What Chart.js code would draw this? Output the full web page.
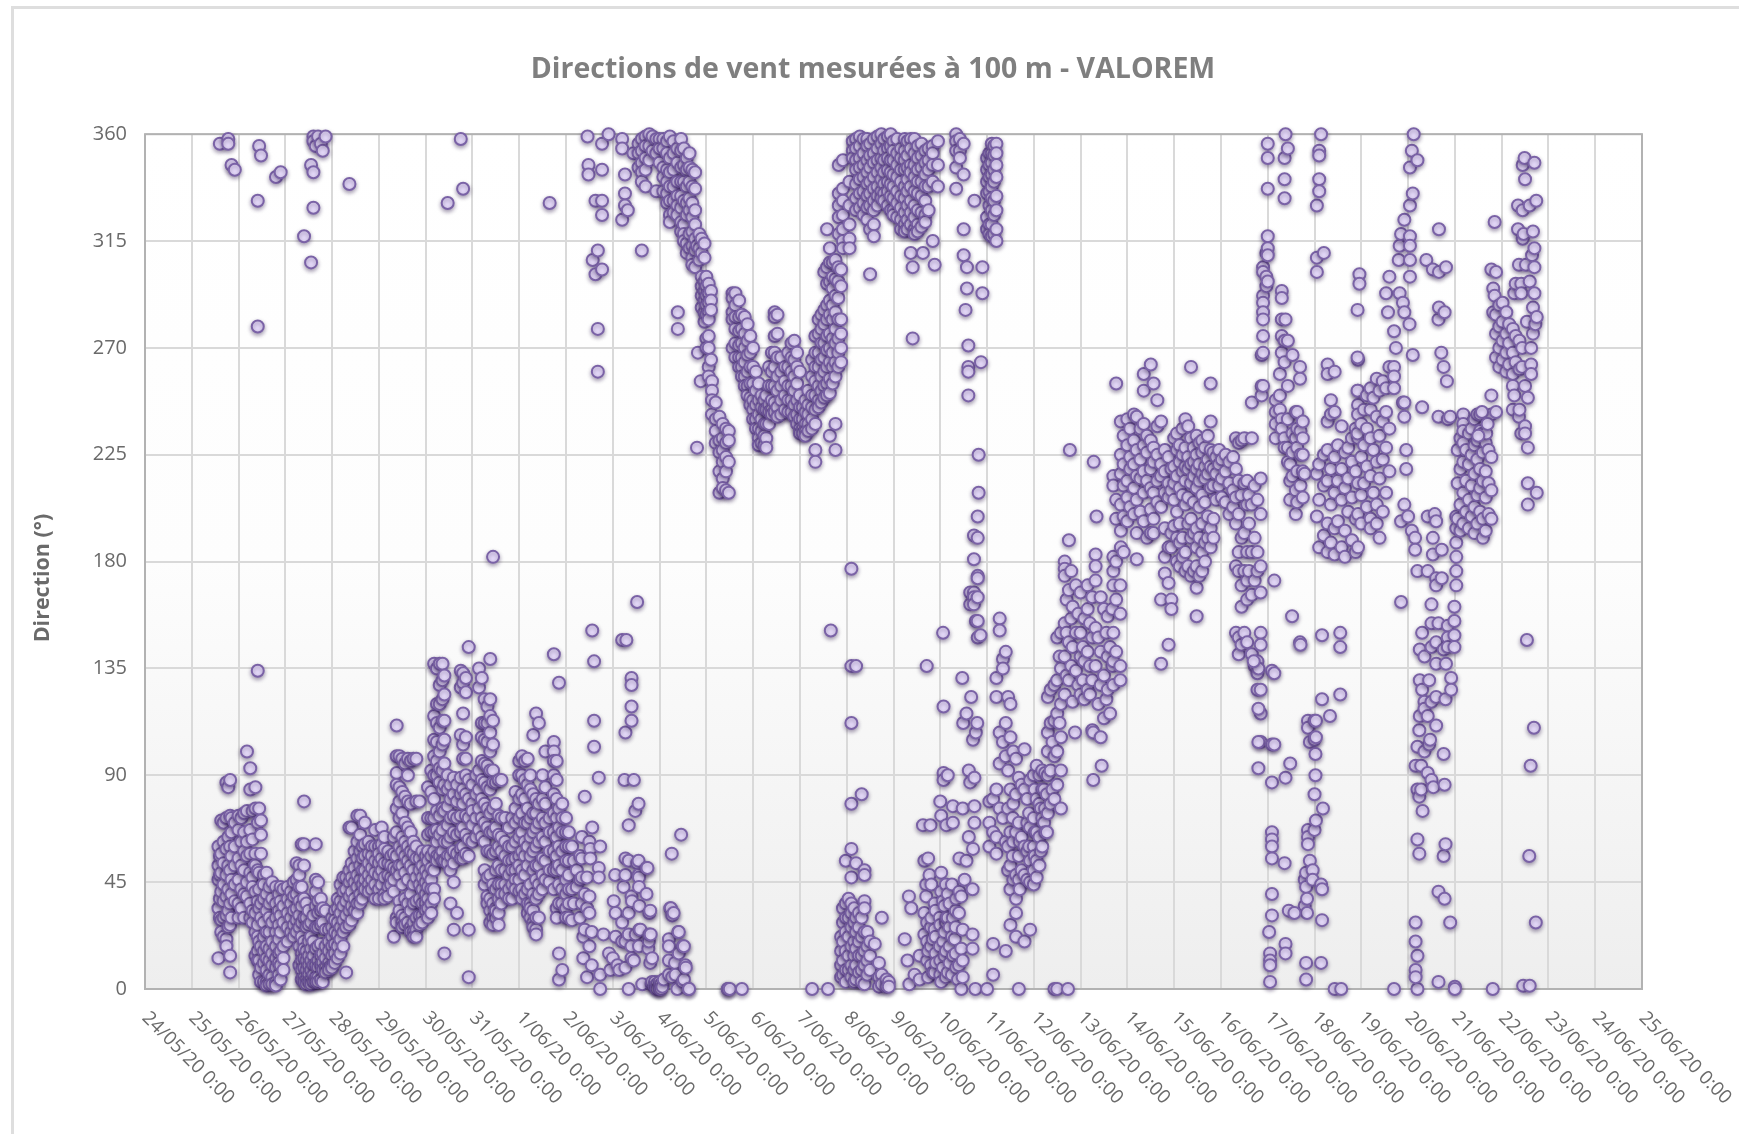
<!DOCTYPE html>
<html>
<head>
<meta charset="utf-8">
<title>Directions de vent</title>
<script src="https://cdn.jsdelivr.net/npm/chart.js@4/dist/chart.umd.min.js"></script>
<style>
body { margin: 0; background: #fff; }
#frame { position: absolute; left: 11px; top: 6px; right: 0; bottom: 0; border-left: 3px solid #dedede; border-top: 3px solid #dedede; }
#wind { position: absolute; left: 0; top: 0; }
</style>
</head>
<body>
<div id="frame"></div>
<canvas id="wind" width="1739" height="1134"></canvas>
<script>
const chartTitle = 'Directions de vent mesurées à 100 m - VALOREM';
const yTitle = 'Direction (°)';
const dateLabels = ['24/05/20 0:00','25/05/20 0:00','26/05/20 0:00','27/05/20 0:00','28/05/20 0:00','29/05/20 0:00','30/05/20 0:00','31/05/20 0:00','1/06/20 0:00','2/06/20 0:00','3/06/20 0:00','4/06/20 0:00','5/06/20 0:00','6/06/20 0:00','7/06/20 0:00','8/06/20 0:00','9/06/20 0:00','10/06/20 0:00','11/06/20 0:00','12/06/20 0:00','13/06/20 0:00','14/06/20 0:00','15/06/20 0:00','16/06/20 0:00','17/06/20 0:00','18/06/20 0:00','19/06/20 0:00','20/06/20 0:00','21/06/20 0:00','22/06/20 0:00','23/06/20 0:00','24/06/20 0:00','25/06/20 0:00'];

// each row: days since 24/05, then the directions read at about that time
const lateMay = [
[1.57,60,52,46,34,13],[1.6,356,56,48,38,30],[1.63,71,57,49,41,29,24],[1.68,70,62,53,44,37,30,22],
[1.74,87,72,59,48,39,31,21,18],[1.78,358,356,85,64,52,42,33,26],[1.82,88,73,60,50,36,27,14,7],[1.85,347,72,66,56,46,40,30],
[1.92,345,70,60,52,44,37],[2,73,67,55,46,36,30],[2.06,72,62,52,42,34],[2.12,74,66,58,50,40,30],
[2.18,100,75,62,56,45,39],[2.25,93,84,67,57,49,36,30],[2.3,75,63,47,43,33,28],[2.36,85,76,57,52,41,32,24,14],
[2.41,332,279,134,70,50,37,27,22,16,12],[2.44,355,76,49,42,34,20,12,6],[2.48,351,71,65,57,36,30,18,9,3],[2.54,48,44,38,28,22,16,11,3],
[2.6,49,40,33,24,18,13,8,3,1.5],[2.66,43,36,30,24,17,12,6,2],[2.72,45,38,28,20,15,10,5,2],[2.8,342,43,36,30,24,18,13,9,3,1.5],
[2.86,40,33,27,21,15,11,6],[2.9,344,43,37,31,24,16,10,4],[2.96,42,35,28,18,13,8],[3.05,43,38,32,26,20],
[3.12,41,36,30,24],[3.18,45,39,33,27,22],[3.24,53,46,40,34,29,24],[3.3,52,48,43,37,31,26,18,10],
[3.35,61,43,35,28,22,15,12,8,4],[3.4,317,79,61,52,38,30,20,17,13,9,5,3],[3.45,36,30,26,16,12,8,4,2],[3.5,33,27,20,14,10,6,3],
[3.55,347,306,28,22,17,12,8,4,2],[3.6,359,357,344,329,31,20,14,10,6,3],[3.65,355,61,46,41,35,26,17,10,5,3],[3.7,359,45,37,32,26,18,12,9,5,3],
[3.76,356,38,33,27,19,14,10,4],[3.8,353,34,28,15,11,8,3],[3.86,359,33,25,18,13,9,7],[3.93,25,20,16,11,9,8],
[4,30,26,22,18,14,10,9],[4.06,33,29,24,19,15,11],[4.12,38,34,28,23,18,13],[4.18,44,37,32,26,21,15],
[4.24,47,41,35,29,24,18],[4.3,47,42,37,31,26,7],[4.37,339,68,50,45,39,33,27],[4.42,68,53,47,41,35,29],
[4.48,58,51,45,38,33],[4.54,73,62,55,48,43,36,32],[4.6,73,65,58,52,46,40,36],[4.65,60,55,50,44,38],
[4.7,70,61,56,50,46,42],[4.78,62,57,53,48,44,41],[4.85,60,56,51,46,42],[4.92,67,60,54,49,44,38],
[5,60,57,53,48,42,38],[5.06,68,61,55,50,44],[5.12,64,59,53,47,40,38],[5.2,58,53,48,43,39],
[5.26,56,52,47,44],[5.32,64,57,51,46,41,22],[5.38,111,98,91,86,76,66,56,50,30,28],[5.44,98,85,79,72,60,52,48,37,33],
[5.5,97,83,74,64,58,52,44,31,28,26],[5.56,95,81,70,62,56,49,38,30,27],[5.62,97,90,79,68,60,54,46,36,28],[5.68,96,78,66,58,52,40,33,26,24],
[5.74,97,62,57,50,44,36,28,24,22],[5.8,97,79,60,55,47,37,30,25,22],[5.87,79,55,50,44,38,31,27],[5.93,58,52,47,42,36,31,28]
];

const earlyJune = [
[6,56,50,45,40,36,33],[6.05,85,72,65,58,54,48,43,38,34,30],[6.12,92,83,72,66,56,51,46,42,36,32],[6.18,137,115,105,98,90,80,72,66,58,50,42,38],
[6.24,135,120,112,104,96,90,75,67,62,56,54],[6.3,137,128,120,110,100,93,87,73,65,56],[6.36,137,130,122,113,103,92,84,76,67,58,54],[6.4,132,124,113,105,95,86,75,62,54,15],
[6.47,331,90,84,77,69,62,56,53],[6.53,86,80,72,64,56,50,36],[6.6,89,82,73,66,58,53,45,25],[6.67,86,79,72,65,57,32],
[6.75,358,134,127,107,89,82,73,66,59,55],[6.8,337,133,129,116,103,97,84,78,68,60,55],[6.86,131,125,106,97,90,82,73,65,57],[6.92,144,88,80,72,63,56,25,5],
[7,86,78,75,69,62],[7.08,90,82,72,64],[7.14,135,127,92,84,76,67],[7.2,131,112,106,96,88,80,72,64],
[7.26,122,112,105,95,87,78,70,62,50,44],[7.32,119,112,104,94,85,76,68,58,47,39,36],[7.38,139,122,115,108,100,92,84,74,66,58,48,38,33,28],[7.44,182,113,103,92,87,76,66,57,44,36,30,27],
[7.5,87,78,68,58,50,42,34,30,33],[7.56,88,73,65,60,52,44,38,32,27],[7.62,88,72,64,58,50,44,40,36],[7.7,72,62,56,50,44,40],
[7.78,68,60,54,48,42,38],[7.85,72,60,54,50,44,38],[7.92,83,76,70,62,55,50,46,42],[8,96,90,80,72,64,56,52,46,41],
[8.06,98,90,82,74,66,58,50,42,38],[8.12,96,88,80,70,62,56,48,40],[8.18,97,86,76,70,60,52,42,36,32],[8.24,90,84,72,64,56,44,36,34,30],
[8.3,107,82,74,66,58,50,40,33,28,26],[8.36,116,80,74,68,60,52,46,38,30,25,23],[8.42,112,78,70,62,52,44,40,30],[8.5,90,80,72,64,55,48,42],
[8.56,100,85,78,70,62,54,46],[8.65,331,72,66,58,50,45],[8.74,141,104,100,96,90,82,74,66,58,50,42],[8.8,96,88,80,72,64,56,50,34,30],
[8.85,129,76,68,60,52,44,36,15,4],[8.92,78,72,66,58,50,42,36,8],[9,72,66,60,54,46,40,34,30],[9.06,66,60,54,48,42,36,30],
[9.13,60,42,29],[9.17,54,36],[9.23,50,43],[9.3,56,46,30],[9.34,64,55,47,36],[9.37,22,13],[9.4,81,40,25],[9.45,47,34,5],[9.46,359],[9.48,347,343],
[9.5,62,39,32,18],[9.52,59,55],[9.55,24,10],[9.56,151,68],[9.57,307],[9.6,138,113,102],[9.63,332,301],[9.68,311,278,260],[9.7,89,51,47],[9.73,60,6,0],
[9.77,356,345,332,326,303],[9.8,23],[9.91,360],[9.92,15],[9.95,8],[10,13],[10.02,37],[10.05,48],[10.06,32,22],[10.1,10],
[10.14,8],[10.2,358,354,324,147,28,20],[10.23,43],[10.25,88],[10.26,343,335,330],[10.27,108,55,48,20,9],[10.29,147],[10.32,328],[10.34,69,54,32,23,0],[10.4,131,128,119,113,39,18,13],
[10.41,37],[10.44,352],[10.45,88,12],[10.48,75],[10.49,23],[10.52,163,53],[10.55,54,48,78],[10.56,47,43,18],[10.57,35,25],[10.59,25],
[10.63,2],[10.72,51,40],[10.74,51],[10.76,17],[10.77,20],[10.78,32,23],[10.8,33,11],[10.81,23],[10.83,2],[10.84,13,3],
[10.9,3,1],[10.94,2,0],[11,3,1,0],[11.03,2,0],[11.06,1],[11.09,4],[11.2,21,18,12,6],[11.23,34],[11.24,34],[11.27,31,5],
[11.3,32],[11.33,11],[11.34,6],[11.38,0],[11.4,24],[11.41,24,15],[11.46,65],[11.49,3],[11.5,18],[11.52,18,4],
[11.55,10],[11.56,9],[11.62,0],[11.63,0],[11.26,57],
[10.55,356,352,346],[10.62,358,353,348,344,340,311],[10.7,359,355,350,345,338],[10.78,360,355,349],[10.85,359,353],[10.93,358,352,336],
[11,358,354,348],[11.08,358,354,346,342,336],[11.16,357,352,345,340,335,331],[11.22,359,350,344,338,332,326,323],[11.3,357,352,345,338,332,327],[11.38,354,348,340,334,330,326],
[11.39,285,278],[11.46,358,353,346,340,334,329,323,319],[11.52,354,347,340,332,322,318,315],[11.58,350,345,338,331,326,314,310],[11.64,352,346,340,333,328,318,312],[11.7,345,338,331,325,319,313,308,305],
[11.76,344,337,328,322,316,311,304],[11.8,313,228],[11.85,318,312,307],[11.82,268],[11.88,256],[11.9,316,310,300,296,292,287],
[11.96,314,308,298,294,290,285,281],[12,300,296,292,288,284,274,270],[12.05,297,293,289,285,282,275,270,262,258],[12.1,294,290,286,265],[12.12,256,252,248,242],[12.2,247,240,235,230],
[12.28,241,231,226,218,209],[12.35,238,232,227,222,215,211],[12.42,236,230,224,218,210],[12.48,235,231,222,209],[12.46,0,0],[12.5,0],[12.76,0],
[12.56,293,291,285,282,270],[12.62,293,288,283,278,272,266],[12.7,290,283,277,271,266,262],[12.76,284,278,272,266,262,258],[12.82,283,276,270,264,258,254],[12.88,280,273,267,260,254,250],
[12.94,275,268,262,255,249,246],[13,270,262,255,248,244,240],[13.06,260,252,246,240,236],[13.12,255,248,242,236,232,229],[13.18,250,245,240,235,230],[13.24,248,244,238,233,229],
[13.28,250,244,238,232,228],[13.34,262,254,246,243,238],[13.4,268,260,254,248,244,242],[13.46,285,283,275,268,262,254,247,243],[13.52,284,276,266,258,252,245,241],[13.6,266,260,254,248,242],
[13.68,262,256,250,244],[13.75,268,262,254,248,243],[13.82,272,266,260,254,248,243],[13.88,273,265,258,252,246,241],[13.94,268,262,255,248,242,238],[14,260,250,245,240,236,234],
[14.06,245,240,236,234],[14.12,248,243,238,235,233],[14.18,252,246,242,238,235],[14.26,265,258,250,245,240,236,0],[14.33,275,268,262,256,250,244,238,227,222],[14.4,282,276,268,262,254,248,245],
[14.46,284,278,272,265,258,252,247],[14.52,302,286,280,272,266,260,254,249],[14.58,320,304,297,288,282,275,269,262,255,250],[14.6,0],[14.64,312,306,298,290,284,276,270,264,257,251,233],[14.66,151],
[14.7,306,300,295,288,282,274,268,262,255],[14.76,307,299,292,285,278,272,264,258,238,227],[14.82,304,298,291,282,274,268,262],[14.88,303,296,282,276,270,264],
[14.83,347,335,330,325,318],[14.92,349,337,332,326,320,315,312],[15.06,340,330,322,316,312]
];

const midJune = [
[14.88,22,16,10,5],[14.92,34,28,20,12,6],[14.98,54,36,30,24,16,8,3],[15.04,38,30,22,14,8],[15.1,177,136,112,78,59,47,36,32,26,18,10,5],[15.16,34,28,20,14,8,3],
[15.2,136,53,30,24,17,10,4],[15.26,32,26,20,14,7],[15.32,82,30,22,14,8,3],[15.38,50,48,37,34,24,16,10,2],[15.44,24,18,12,6],[15.5,20,14,8],
[15.6,19],[15.69,11,5,1],[15.75,30,6,2],[15.85,4,1],[15.9,3,1],
[15.13,357,353,350],[15.2,358,354,349,345,339,333,328],[15.28,359,355,350,346,341,335,329],[15.36,358,352,347,342,336,331,326],[15.44,358,355,349,344,339,334,329,324],[15.5,356,351,346,340,335,330,320,301],
[15.58,358,352,348,342,337,332,328,322,317],[15.66,359,354,349,344,338,334,330],[15.74,360,356,350,346,341,336,333],[15.8,358,353,349,344,339,335,332],[15.88,359,354,350,345,340,336,330],[15.94,360,355,349,344,339,334,328],
[16,357,353,349,343,338,333,328,326],[16.08,358,352,347,342,336,331,325],[16.16,354,350,345,340,334,329,324,320],[16.24,358,353,349,345,338,333,327,322,319],[16.3,357,351,346,341,336,330,324,320],[16.37,358,354,347,344,338,332,327,322,310],
[16.41,304,274],[16.45,358,352,347,342,336,330,325,320,318],[16.52,355,350,345,340,335,328,322,319],[16.6,356,351,346,340,334,327,321],[16.63,310],[16.68,353,348,343,338,332,326,323],
[16.75,354,349,345,338,328],[16.84,355,352,347,340,315],[16.88,305],[16.95,357,347,338],
[16.24,21],[16.3,12],[16.33,39],[16.34,2],[16.38,34],[16.45,6],[16.56,14,4],[16.63,69],[16.66,54,32,23],[16.7,44,39],[16.71,136],[16.72,28,20,12],
[16.74,55,16,5],[16.77,48],[16.79,69],[16.8,26,18,10],[16.81,44,30],[16.84,21,7],[16.88,36,25,7],[16.9,33,22,15],[16.91,11],[16.99,30,18],[17,79,27,12,6],[17.02,73,49,41,3],
[17.06,150,37,20,9],[17.07,119,91,88],[17.09,35,24,14],[17.12,44,28,16,5],[17.13,69,30],[17.16,90,40,30,7],[17.2,36,26,18,11],[17.25,44,22,6],[17.27,77,70,30,14],[17.31,21],[17.33,33,26,15],[17.34,38,9],
[17.38,4],[17.4,32,10],[17.41,55,41],[17.45,39,17,0],[17.47,131],[17.48,76,25,12,5],[17.49,112],[17.52,46],[17.56,116,54],[17.61,92,64],[17.64,167,162,87],[17.66,123],
[17.69,42,23,17],[17.7,105,59],[17.72,191,181,167,165,162],[17.73,89,77,70],[17.75,0],[17.76,155,108],[17.79,112],[17.8,199,190,174,173,165,155,148],[17.86,149],[18,0],
[17.34,360,357,353,346,337],[17.42,358,353,350],[17.5,356,343,320,309],[17.57,304,295],[17.54,286],[17.6,271,262,260,250],[17.73,332],[17.82,225,209],[17.87,264],[17.9,304,293],
[18,350,345,340,335,325,320],[18.05,352,347,342,336,330,322,318],[18.1,356,352,348,343,338,333,328,322,317],[18.15,355,351,345,340,332,326,318],[18.2,356,352,347,342,334,328,320,315],
[18.05,79,70,60],[18.13,80,66,19,6],[18.2,131,123,84,64,57],[18.27,156,151,108,95,76],[18.34,139,135,104,72],[18.4,142,112,98,62,16],
[18.45,123,92,76,60,50],[18.5,120,106,84,66,52,42,27],[18.55,72,56],[18.56,100,78,62,46],[18.62,97,82,66,48,38,32,22],[18.68,89,70,56,46,0],[18.7,62,42],[18.74,86,64,50],
[18.8,101,84,60,48,20],[18.86,80,70,58,46],[18.9,74,60],[18.92,88,68,54,45,25],[19,90,72,60,50,44],[19.02,84,66,56],[19.06,94,80,66,54,47],[19.12,90,78,64,52],[19.15,76,58],
[19.18,92,84,72,60],[19.22,84,70],[19.24,91,76,66],[19.28,82,66],[19.3,123,108,100,90,74],[19.36,126,112,92,78],[19.4,104,84],[19.44,128,113,98,80,0],[19.5,148,130,116,100,86,0],
[19.55,140,112],[19.58,150,135,120,106,92,76],[19.66,180,177,174,154,140,124],[19.7,164,150,132],[19.73,0],[19.75,189,168,146,130],[19.77,227],[19.8,176,156,136],[19.83,161,144,121],
[19.88,108],[19.9,170,150,134],[19.95,158,128],[20,167,150,140,124],[20.05,144,130],[20.08,156,138,122],[20.15,170,160,142,126],[20.2,154,136,124],[20.25,165,148,130,109],
[20.27,108,88],[20.28,222],[20.32,183,178,172,152,136],[20.34,199],[20.38,148,120],[20.43,165,142,128,106],[20.45,94],[20.5,160,132,114],[20.55,150,122],[20.58,157,140,126],
[20.63,144,116],[20.68,160,136],[20.7,216,212,182,176,170,150,138,128],[20.76,255,206,198,180,164,142],[20.85,170,158,136,130]
];

const lateJune = [
[20.86,239,225,217,204,193,186],[20.92,233,221,212,199,184],[21,240,229,214,207,197],[21.06,236,224,219,203],[21.14,242,231,221,211,200],[21.2,241,227,216,206,192,181],
[21.28,236,223,215,201],[21.35,259,252,238,229,218,209,197],[21.42,233,226,214,190],[21.5,263,231,219,211,202,192],[21.56,255,228,222,209,198,192],[21.64,248,237,225,214,205],
[21.72,239,221,216,203,164,137],[21.8,227,218,209,194,182,175],[21.88,224,213,207,186,171,145],[21.94,219,210,192,186,164,160],[22,232,220,213,206,195],[22.06,234,227,216,201,190,180],
[22.12,229,222,211,196,188,178],[22.18,236,225,218,208,190,182],[22.24,240,228,220,214,204,184,176],[22.3,237,224,219,207,196,178],[22.36,262,232,221,213,198,190,174],[22.42,228,222,216,205,192,176],
[22.48,233,225,219,211,194,186,178,169,157],[22.54,230,221,214,203,190,174],[22.6,231,226,217,208,196,184,176],[22.66,228,220,215,205,188,180],[22.72,233,223,217,199,190],[22.78,255,239,227,220,211,194,186],
[22.84,226,219,212,198,190],[22.9,224,217,206],[22.96,227,221,212],[23.02,223,215,207],[23.1,225,218,205],[23.18,222,213,200],
[23.26,224,210,203],[23.32,232,219,207,196,178,150],[23.38,230,214,200,184,176,148,141],[23.44,231,208,190,170,161,145],[23.5,232,213,192,176,150],[23.56,214,204,184,172,164,146],
[23.6,208,196,176],[23.66,247,232,204,184,166,141],[23.72,212,190,172,136],[23.78,206,184,176,138,133,126],[23.85,215,200,178,167,150,145,126,116,104],[23.87,267,254,250],
[23.8,135,118,104,93],[23.7,138],[23.9,304,302,292,289,285,282,275,268,254],[23.97,310,300,296],[24,356,350,337,317,312,309,298],[24.03,24],
[24.05,15,12,10,3],[24.09,134,103,87,66,63,60,55,40,31],[24.14,172,133,103],[24.17,248,243,238,232],[24.26,259,250,244],[24.3,294,291,282,275,268,240,236],
[24.36,350,341,333,273,264,232,228,53],[24.38,360,282,89,19,15],[24.43,354,273,254,240,228,222],[24.48,221,214,206,95],[24.53,267,234,226,216],[24.52,157],
[24.6,243,232,210,200],[24.63,243,236,228,218,205],[24.69,262,257,146],[24.7,235,225,212,145],[24.75,239,232,225,218,207],[24.79,217,46,35],
[24.82,49,43,11,4],[24.84,38,32],[24.45,33],[24.57,32],[24.86,113,110,67,64,61],[24.9,104,54],
[24.96,50,46],[25,113,105,82,67],[25.02,99,90],[25.03,113,106,71],[25.14,44,11],[25.16,149,122,42,29],
[25.18,76],[25.33,115],[25.43,0],[25.57,0],[25.55,150,144,124],
[25.05,330,308,302,217,199],[25.1,353,351,341,336,221,206,186],[25.14,360],[25.2,310,225,212,191],[25.28,263,259,239,227,214,196,184],[25.35,248,242,219,204,188],
[25.43,260,243,224,209,194,183],[25.5,229,214,197],[25.58,237,219,206,186],[25.65,226,211,193,182],[25.72,228,215,201],[25.8,232,222,207,189],
[25.88,236,218,198,184],[25.93,265,252,246,242,232,213,200,186],[25.92,286,266,252,234],[25.96,301,297],[26,238,224,208,196],[26.06,244,229,213],
[26.12,250,236,220,203],[26.2,253,244,232,216,198,194],[26.26,249,227,209],[26.33,257,241,222,204,196],[26.39,252,233,215,190],[26.46,256,239,223,201],
[26.53,293,253,243,228,209],[26.6,300,262,236,218],[26.57,285],[26.7,277,262,258,253,0],[26.74,270],[26.8,307],
[26.82,313,293],[26.85,318,197,163],[26.89,289,247],[26.92,324,285,247,241,204],[26.96,227,219],[27,199],
[27.03,280],[27.04,346,330,317,313,307,300],[27.08,353,193],[27.1,335,267],[27.12,360],[27.15,190,185],[27.2,349,176,102,84,63,14,0],
[27.16,94,28,20,8,5],[27.24,109,81,57],[27.25,143,130,115],[27.28,94,84],[27.3,245,150,126],[27.31,75],[27.35,140,121,118,100],
[27.39,307],[27.42,199,176,115,91],[27.45,130,103],[27.47,105],[27.5,162,154,144,121,88],[27.53,303,190,183],
[27.54,85],[27.57,200],[27.6,197,173,170,146,137,123,111],[27.65,282,241,154,41,3],[27.66,320,302,287],[27.71,268],
[27.72,185,173],[27.76,262,143,99,56],[27.78,285,86,38],[27.8,122,61],[27.81,304,137],[27.83,256],
[27.85,240,153,148,144],[27.9,241,28],[27.92,131,126],[27.99,161,155,149,144],[28,1,0],[28.03,199,194,188,182,176,170],
[28.06,227,213,198],[28.12,232,219,204,193],[28.18,242,238,235,230,222,209,196],[28.24,227,214,201],[28.3,234,221,206,194],[28.36,236,225,212,199],
[28.42,240,229,217,203,192],[28.48,242,231,223,208,196],[28.54,242,235,219,211,201],[28.6,234,226,214,198,190],[28.66,230,218,207,193],[28.72,227,213,200],
[28.78,303,250,242,224,210,198],[28.67,234],[28.58,243],[28.7,238],[28.5,233],[28.81,0],
[28.82,295,285],[28.85,323,292],[28.88,302,284,276,266,243],[28.95,288,279,270,262],[29.02,289,281,273,265],[29.1,285,276,268,260],
[29.16,280,272,263],[29.24,278,268,259,254,244],[29.27,293,250],[29.3,297,275,264],[29.35,330,320],[29.37,305,241],
[29.38,273,261,244],[29.42,297,293,234],[29.44,270,262],[29.45,347,328,316],[29.46,1.4],[29.47,318],
[29.49,350],[29.5,341,254,237,234],[29.52,305],[29.54,281,147],[29.56,249,228,213,204],[29.59,56],
[29.6,330,298,1.4],[29.62,94],[29.63,270,263,259],[29.65,309],[29.67,319,287,276],[29.69,110],
[29.7,348,312,304,293],[29.72,280],[29.73,28],[29.74,332],[29.75,283,209]
];

const allRows = [...lateMay, ...earlyJune, ...midJune, ...lateJune];
const points = [];
allRows.forEach(([day, ...dirs]) => dirs.forEach(d => points.push({ x: day, y: d })));

const textGrey = '#6a6a6a';

const decor = {
  id: 'decor',
  beforeDraw(chart) {
    const { ctx, chartArea: a } = chart;
    const grad = ctx.createLinearGradient(0, a.top, 0, a.bottom);
    grad.addColorStop(0, '#ffffff');
    grad.addColorStop(0.5, '#fdfdfd');
    grad.addColorStop(1, '#eeeeee');
    ctx.save();
    ctx.fillStyle = grad;
    ctx.fillRect(a.left, a.top, a.right - a.left, a.bottom - a.top);
    ctx.restore();
  },
  beforeDatasetsDraw(chart) {
    const { ctx, chartArea: a } = chart;
    ctx.save();
    ctx.strokeStyle = '#b2b2b2';
    ctx.lineWidth = 2;
    ctx.strokeRect(a.left, a.top, a.right - a.left, a.bottom - a.top);
    ctx.restore();
  },
  beforeDatasetDraw(chart) {
    const ctx = chart.ctx;
    ctx.save();
    ctx.shadowColor = 'rgba(40,20,70,0.4)';
    ctx.shadowBlur = 4;
    ctx.shadowOffsetY = 2;
  },
  afterDatasetDraw(chart) {
    chart.ctx.restore();
  },
  afterDraw(chart) {
    const { ctx, chartArea: a, scales } = chart;
    ctx.save();
    ctx.fillStyle = textGrey;
    ctx.font = '19px "Open Sans"';
    ctx.textAlign = 'left';
    ctx.textBaseline = 'middle';
    dateLabels.forEach((txt, i) => {
      ctx.save();
      ctx.translate(scales.x.getPixelForValue(i), a.bottom + 26);
      ctx.rotate(Math.PI / 4);
      ctx.fillText(txt, 0, 0);
      ctx.restore();
    });
    ctx.font = 'bold 21.5px "Open Sans"';
    ctx.textAlign = 'center';
    ctx.translate(43, 578);
    ctx.rotate(-Math.PI / 2);
    ctx.fillText(yTitle, 0, 0);
    ctx.restore();
  }
};

new Chart(document.getElementById('wind'), {
  type: 'scatter',
  data: {
    datasets: [{
      label: 'Direction',
      data: points,
      clip: false,
      pointRadius: 6,
      pointHoverRadius: 6,
      pointBorderWidth: 2,
      pointBackgroundColor: '#e6dbfa',
      pointBorderColor: '#7a62a6'
    }]
  },
  options: {
    responsive: false,
    animation: false,
    layout: { padding: { left: 104, right: 97 } },
    plugins: {
      legend: { display: false },
      tooltip: { enabled: false },
      title: {
        display: true,
        text: chartTitle,
        color: '#7f7f7f',
        font: { family: '"Open Sans"', size: 28.5, weight: 'bold' },
        padding: { top: 53, bottom: 47 }
      }
    },
    scales: {
      x: {
        type: 'linear',
        min: 0,
        max: 32,
        ticks: { display: false, stepSize: 1 },
        grid: { color: '#d9d9d9', lineWidth: 2, drawTicks: false },
        border: { display: false },
        afterFit(scale) { scale.height = 145; }
      },
      y: {
        min: 0,
        max: 360,
        ticks: { stepSize: 45, color: textGrey, padding: 18, font: { family: '"Open Sans"', size: 20 } },
        grid: { color: '#d9d9d9', lineWidth: 2, drawTicks: false },
        border: { display: false },
        afterFit(scale) {
          scale.width = 41;
          // the scale box is narrower than its labels here, don't clip them to it
          scale._computeLabelArea = () => undefined;
        }
      }
    }
  },
  plugins: [decor]
});
</script>
</body>
</html>
